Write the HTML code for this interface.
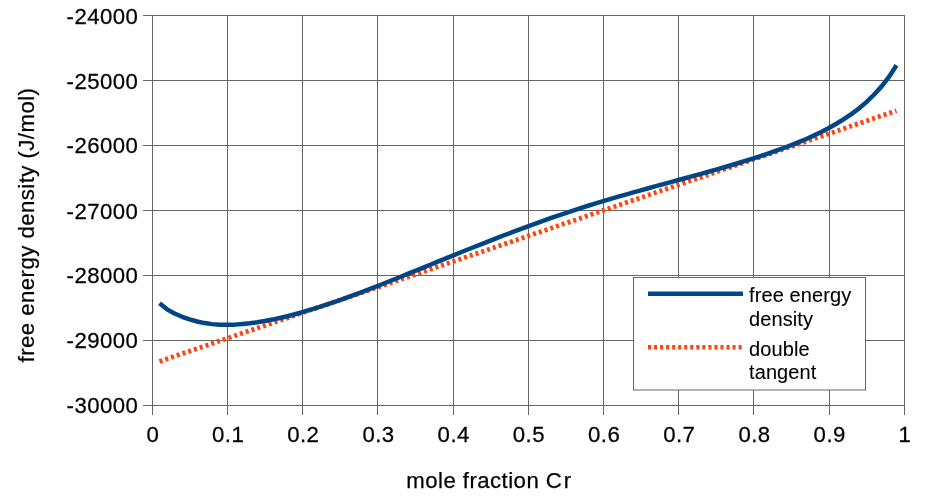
<!DOCTYPE html>
<html><head><meta charset="utf-8"><style>
html,body{margin:0;padding:0;background:#fff;}
svg{display:block;will-change:transform;}
.leg text{font-size:20px;letter-spacing:0.1px;stroke-width:0.1px;}
text{font-family:"Liberation Sans",sans-serif;font-size:22.2px;letter-spacing:0.45px;fill:#000;stroke:#000;stroke-width:0.25px;}
</style></head><body>
<svg width="926" height="503" viewBox="0 0 926 503">
<g stroke="#666666" stroke-width="1" fill="none">
<line x1="152.5" y1="15" x2="152.5" y2="415"/><line x1="227.5" y1="15" x2="227.5" y2="415"/><line x1="302.5" y1="15" x2="302.5" y2="415"/><line x1="377.5" y1="15" x2="377.5" y2="415"/><line x1="453.5" y1="15" x2="453.5" y2="415"/><line x1="528.5" y1="15" x2="528.5" y2="415"/><line x1="603.5" y1="15" x2="603.5" y2="415"/><line x1="678.5" y1="15" x2="678.5" y2="415"/><line x1="753.5" y1="15" x2="753.5" y2="415"/><line x1="829.5" y1="15" x2="829.5" y2="415"/><line x1="904.5" y1="15" x2="904.5" y2="415"/><line x1="143" y1="15.5" x2="905" y2="15.5"/><line x1="143" y1="80.5" x2="905" y2="80.5"/><line x1="143" y1="145.5" x2="905" y2="145.5"/><line x1="143" y1="210.5" x2="905" y2="210.5"/><line x1="143" y1="275.5" x2="905" y2="275.5"/><line x1="143" y1="340.5" x2="905" y2="340.5"/><line x1="143" y1="405.5" x2="905" y2="405.5"/>
</g>
<g><text transform="translate(138.4,24) scale(1,1.035)" text-anchor="end">-24000</text><text transform="translate(138.4,89) scale(1,1.035)" text-anchor="end">-25000</text><text transform="translate(138.4,153) scale(1,1.035)" text-anchor="end">-26000</text><text transform="translate(138.4,219) scale(1,1.035)" text-anchor="end">-27000</text><text transform="translate(138.4,283) scale(1,1.035)" text-anchor="end">-28000</text><text transform="translate(138.4,348) scale(1,1.035)" text-anchor="end">-29000</text><text transform="translate(138.4,413) scale(1,1.035)" text-anchor="end">-30000</text></g>
<g><text transform="translate(152.9,442) scale(1,1.03)" text-anchor="middle">0</text><text transform="translate(228.1,442) scale(1,1.03)" text-anchor="middle">0.1</text><text transform="translate(303.29999999999995,442) scale(1,1.03)" text-anchor="middle">0.2</text><text transform="translate(378.5,442) scale(1,1.03)" text-anchor="middle">0.3</text><text transform="translate(453.7,442) scale(1,1.03)" text-anchor="middle">0.4</text><text transform="translate(528.9,442) scale(1,1.03)" text-anchor="middle">0.5</text><text transform="translate(604.1,442) scale(1,1.03)" text-anchor="middle">0.6</text><text transform="translate(679.3,442) scale(1,1.03)" text-anchor="middle">0.7</text><text transform="translate(754.5,442) scale(1,1.03)" text-anchor="middle">0.8</text><text transform="translate(829.7,442) scale(1,1.03)" text-anchor="middle">0.9</text><text transform="translate(904.9,442) scale(1,1.03)" text-anchor="middle">1</text></g>
<text transform="translate(489,488)" text-anchor="middle">mole fraction C<tspan dx="1.6">r</tspan></text>
<text transform="translate(34,225) rotate(-90)" text-anchor="middle">free energy density (J/mol)</text>
<path d="M159.52,361.4 L896.48,110.7" fill="none" stroke="#ff420e" stroke-width="4.8" stroke-dasharray="3.035 3.035"/>
<path transform="translate(0,0.6)" d="M159.52,302.69 L167.04,308.76 L174.56,312.90 L182.08,316.18 L189.60,318.76 L197.12,320.91 L204.64,322.48 L212.16,323.53 L219.68,324.10 L227.20,324.25 L234.72,324.03 L242.24,323.49 L249.76,322.68 L257.28,321.65 L264.80,320.41 L272.32,318.98 L279.84,317.37 L287.36,315.59 L294.88,313.65 L302.40,311.57 L309.92,309.36 L317.44,307.03 L324.96,304.59 L332.48,302.05 L340.00,299.44 L347.52,296.74 L355.04,293.98 L362.56,291.17 L370.08,288.30 L377.60,285.38 L385.12,282.42 L392.64,279.43 L400.16,276.41 L407.68,273.36 L415.20,270.30 L422.72,267.23 L430.24,264.16 L437.76,261.08 L445.28,258.02 L452.80,254.97 L460.32,251.93 L467.84,248.91 L475.36,245.91 L482.88,242.94 L490.40,239.98 L497.92,237.06 L505.44,234.17 L512.96,231.31 L520.48,228.49 L528.00,225.70 L535.52,222.96 L543.04,220.26 L550.56,217.61 L558.08,215.01 L565.60,212.46 L573.12,209.96 L580.64,207.52 L588.16,205.14 L595.68,202.81 L603.20,200.54 L610.72,198.30 L618.24,196.11 L625.76,193.95 L633.28,191.83 L640.80,189.73 L648.32,187.64 L655.84,185.58 L663.36,183.52 L670.88,181.47 L678.40,179.43 L685.92,177.37 L693.44,175.31 L700.96,173.24 L708.48,171.15 L716.00,169.03 L723.52,166.87 L731.04,164.68 L738.56,162.43 L746.08,160.12 L753.60,157.74 L761.12,155.29 L768.64,152.76 L776.16,150.13 L783.68,147.40 L791.20,144.56 L798.72,141.56 L806.24,138.38 L813.76,134.98 L821.28,131.33 L828.80,127.40 L836.32,123.16 L843.84,118.57 L851.36,113.54 L858.88,107.90 L866.40,101.50 L873.92,94.16 L881.44,86.03 L888.96,76.35 L896.48,64.66" fill="none" stroke="#004586" stroke-width="4.5" stroke-linejoin="round"/>
<g class="leg">
<rect x="633.5" y="277.5" width="232" height="112.5" fill="#fff" stroke="#666666" stroke-width="1"/>
<line x1="648" y1="293.75" x2="743" y2="293.75" stroke="#004586" stroke-width="4.6"/>
<line x1="648" y1="347.2" x2="743" y2="347.2" stroke="#ff420e" stroke-width="4.6" stroke-dasharray="3.02 3.02"/>
<text x="749" y="302">free energy</text>
<text x="749" y="325.8">density</text>
<text x="749" y="356">double</text>
<text x="749" y="379">tangent</text>
</g>
</svg>
</body></html>
